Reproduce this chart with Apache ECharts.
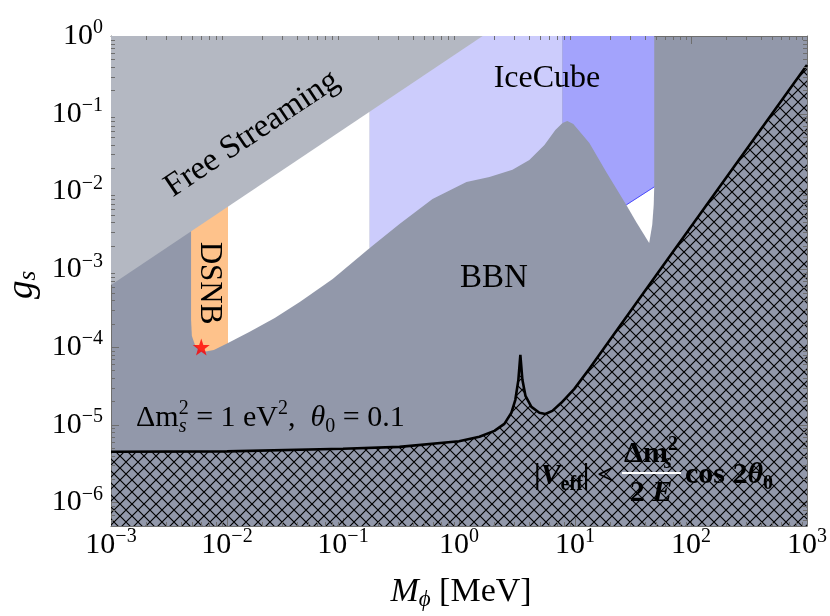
<!DOCTYPE html>
<html><head><meta charset="utf-8">
<script src="https://cdn.jsdelivr.net/npm/echarts@6/dist/echarts.min.js"></script>
<style>html,body{margin:0;padding:0;background:#fff}#c{width:830px;height:616px}</style>
</head><body><div id="c"></div>
<script>
// ---------------- data (M_phi in MeV, g_s) ----------------
const xRange = [1e-3, 1e3];
const yRange = [5e-7, 1];

// Free-streaming boundary (straight line in log-log)
const fsM = [0.001, 1.6];
const fsG = [6.3e-4, 1];

// BBN boundary: lower edge of the open window
const bbnM = [0.0049, 0.00498, 0.00529, 0.00584, 0.00657, 0.0077, 0.0102, 0.0157, 0.0258, 0.0424, 0.0815, 0.17, 0.307, 0.591, 1.16, 1.83, 2.89, 4.04, 5.45, 6.77, 7.8, 8.59, 9.67, 13.3, 18.6, 27.7];
const bbnG = [2.24e-4, 1.39e-4, 1.07e-4, 9.2e-5, 8.8e-5, 9.2e-5, 1.13e-4, 1.57e-4, 2.37e-4, 3.81e-4, 7.5e-4, 1.88e-3, 3.83e-3, 8.03e-3, 0.01328, 0.0154, 0.019, 0.0255, 0.0397, 0.0619, 0.0762, 0.0808, 0.0739, 0.0421, 0.01786, 6.73e-3];

// region limits in M
const dsnbRange = [0.0049, 0.0102];
const openRange = [0.0102, 0.17];
const iceLightRange = [0.17, 7.8];
const iceDarkRange = [7.8, 48.2];

// lower edge of dark IceCube band (right part)
const iceEdgeM = [27.7, 48.2];
const iceEdgeG = [6.73e-3, 0.01146];

// small open notch below IceCube band
const notchM = [27.7, 33.7, 43.6, 46.3, 47.7, 48.2];
const notchG = [6.73e-3, 4.07e-3, 2.18e-3, 3.72e-3, 6.73e-3, 0.01146];

// |V_eff| = Δm²/2E cos2θ0 curve
const veffM = [0.001, 0.01, 0.1, 0.307, 1, 1.5, 2.02, 2.46, 2.83, 3.06, 3.25, 3.38, 3.52, 3.74, 4.21, 4.93, 5.55, 6.38, 7.62, 9.87, 13.3, 19.7, 43.6, 1000];
const veffG = [4.5e-6, 4.56e-6, 4.92e-6, 5.21e-6, 6.14e-6, 7.01e-6, 8.37e-6, 1.03e-5, 1.43e-5, 2.10e-5, 3.79e-5, 7.94e-5, 3.79e-5, 2.36e-5, 1.70e-5, 1.43e-5, 1.38e-5, 1.51e-5, 1.92e-5, 2.90e-5, 5.25e-5, 1.20e-4, 6.3e-4, 0.424];

// benchmark point
const starM = [0.006];
const starG = [1e-4];

// ---------------- styles ----------------
const FONT = '"Liberation Serif","Times New Roman",serif';
const FRAME = '#6e6e6e';
const C_BBN = '#9298aa';
const C_FS = '#b4b8c2';
const C_ICE1 = '#ccccfc';
const C_ICE2 = '#a3a3fc';
const C_DSNB = '#fec28b';

const zip = (a, b) => a.map((v, i) => [v, b[i]]);
const bbn = zip(bbnM, bbnG);
const curveIn = (lo, hi) => bbn.filter(p => p[0] >= lo && p[0] <= hi);
const gTop = yRange[1];

const dsnbPoly = [[dsnbRange[0], gTop], ...curveIn(dsnbRange[0], dsnbRange[1]), [dsnbRange[1], gTop]];
const openPoly = [[openRange[0], gTop], ...curveIn(openRange[0], openRange[1]), [openRange[1], gTop]];
const ice1Poly = [[iceLightRange[0], gTop], ...curveIn(iceLightRange[0], iceLightRange[1]), [iceLightRange[1], gTop]];
const ice2Poly = [[iceDarkRange[0], gTop], ...curveIn(iceDarkRange[0], iceEdgeM[0]), ...zip(iceEdgeM, iceEdgeG).slice(1), [iceDarkRange[1], gTop]];
const notchPoly = zip(notchM, notchG);
const fsPoly = [...zip(fsM, fsG), [xRange[0], gTop]];
const veff = zip(veffM, veffG);
const hatchPoly = [...veff, [xRange[1], yRange[0]], [xRange[0], yRange[0]]];

// crosshatch pattern
const hatch = document.createElement('canvas');
hatch.width = 12; hatch.height = 12;
(function () {
  const c = hatch.getContext('2d');
  c.strokeStyle = '#000'; c.lineWidth = 1.2;
  c.beginPath();
  c.moveTo(-2, -2); c.lineTo(14, 14);
  c.moveTo(14, -2); c.lineTo(-2, 14);
  c.stroke();
})();

function polySeries(name, pts, style, z) {
  return {
    type: 'custom', name, z, silent: true, clip: true,
    xAxisIndex: 0, yAxisIndex: 0,
    data: [pts[0]],
    renderItem: (params, api) => ({
      type: 'polygon',
      shape: { points: pts.map(p => api.coord(p)) },
      style: style
    })
  };
}

// minor tick positions (2..9 x 10^n)
const minorX = [], minorY = [];
for (let d = -3; d < 3; d++) for (let k = 2; k <= 9; k++) minorX.push(k * Math.pow(10, d));
for (let d = -7; d < 0; d++) for (let k = 2; k <= 9; k++) { const v = k * Math.pow(10, d); if (v > yRange[0] && v < yRange[1]) minorY.push(v); }

function expLabel(v) {
  const e = Math.log10(v), r = Math.round(e);
  if (Math.abs(e - r) > 1e-6) return '';
  return '{b|10}{s|' + String(r).replace('-', '\u2212') + '}';
}
const labelRich = {
  b: { fontFamily: FONT, fontSize: 30, lineHeight: 36, verticalAlign: 'middle', color: '#000' },
  s: { fontFamily: FONT, fontSize: 20, lineHeight: 16, verticalAlign: 'top', color: '#000' }
};

function logAxis(range, pos, labels, margin) {
  return {
    type: 'log', logBase: 10, min: range[0], max: range[1], position: pos,
    axisLine: { show: true, onZero: false, lineStyle: { color: FRAME, width: 1 } },
    axisTick: { show: true, inside: true, length: 8, lineStyle: { color: FRAME, width: 1 } },
    axisLabel: labels ? { formatter: expLabel, rich: labelRich, margin: margin } : { show: false },
    splitLine: { show: false }, minorTick: { show: false }, minorSplitLine: { show: false }
  };
}

const baseRich = (size, color, weight) => ({
  r: { fontFamily: FONT, fontSize: size, lineHeight: 38, verticalAlign: 'middle', color, fontWeight: weight },
  i: { fontFamily: FONT, fontSize: size, lineHeight: 38, verticalAlign: 'middle', color, fontWeight: weight, fontStyle: 'italic' },
  sub: { fontFamily: FONT, fontSize: Math.round(size * 0.68), lineHeight: 18, verticalAlign: 'bottom', color, fontWeight: weight, fontStyle: 'italic' },
  subr: { fontFamily: FONT, fontSize: Math.round(size * 0.68), lineHeight: 18, verticalAlign: 'bottom', color, fontWeight: weight },
  subs: { fontFamily: FONT, fontSize: Math.round(size * 0.68), lineHeight: 18, verticalAlign: 'bottom', color, fontWeight: weight, fontStyle: 'italic', width: 0, align: 'left' },
  sup: { fontFamily: FONT, fontSize: Math.round(size * 0.68), lineHeight: 18, verticalAlign: 'top', color, fontWeight: weight }
});

const chart = echarts.init(document.getElementById('c'));
chart.setOption({
  animation: false,
  grid: { left: 111, right: 22, top: 36, bottom: 90, show: true, backgroundColor: C_BBN, borderWidth: 0 },
  xAxis: [logAxis(xRange, 'bottom', true, 1), logAxis(xRange, 'top', false)],
  yAxis: [logAxis(yRange, 'left', true, 8), logAxis(yRange, 'right', false)],
  series: [
    polySeries('DSNB', dsnbPoly, { fill: C_DSNB }, 1),
    polySeries('open', openPoly, { fill: '#ffffff' }, 1),
    polySeries('IceCube light', ice1Poly, { fill: C_ICE1 }, 1),
    polySeries('IceCube dark', ice2Poly, { fill: C_ICE2 }, 1),
    polySeries('notch', notchPoly, { fill: '#ffffff' }, 1),
    {
      type: 'line', name: 'IceCube edge', z: 2, data: zip(iceEdgeM, iceEdgeG), showSymbol: false, silent: true,
      lineStyle: { color: '#4a4aff', width: 1 }
    },
    polySeries('Free Streaming', fsPoly, { fill: C_FS }, 3),
    polySeries('hatch', hatchPoly, { fill: { image: hatch, repeat: 'repeat' } }, 4),
    {
      type: 'line', name: 'Veff', z: 5, data: veff, showSymbol: false, silent: true, clip: true,
      lineStyle: { color: '#000', width: 2.6 }
    },
    {
      type: 'scatter', name: 'star', z: 6, data: zip(starM, starG), silent: true,
      symbol: 'path://M0,-10L2.35,-3.24L9.51,-3.09L3.8,1.24L5.88,8.09L0,4L-5.88,8.09L-3.8,1.24L-9.51,-3.09L-2.35,-3.24Z',
      symbolSize: 17, itemStyle: { color: '#ff0000' }
    },
    {
      type: 'custom', name: 'minor ticks', z: 7, silent: true, clip: false, xAxisIndex: 0, yAxisIndex: 0,
      data: [[1, 1e-3]],
      renderItem: (params, api) => {
        const cs = params.coordSys, ch = [];
        const L = (x1, y1, x2, y2) => ({ type: 'line', shape: { x1, y1, x2, y2 }, style: { stroke: FRAME, lineWidth: 1 } });
        minorX.forEach(v => {
          const x = Math.round(api.coord([v, yRange[0]])[0]) + 0.5;
          ch.push(L(x, cs.y + cs.height, x, cs.y + cs.height - 4));
          ch.push(L(x, cs.y, x, cs.y + 4));
        });
        minorY.forEach(v => {
          const y = Math.round(api.coord([xRange[0], v])[1]) + 0.5;
          ch.push(L(cs.x, y, cs.x + 4, y));
          ch.push(L(cs.x + cs.width, y, cs.x + cs.width - 4, y));
        });
        return { type: 'group', children: ch };
      }
    }
  ],
  graphic: [
    { type: 'text', x: 252, y: 134, rotation: 0.59, z: 100,
      style: { text: 'Free Streaming', fontFamily: FONT, fontSize: 33, fill: '#000', align: 'center', verticalAlign: 'middle' } },
    { type: 'text', x: 209, y: 283, rotation: -Math.PI / 2, z: 100,
      style: { text: 'DSNB', fontFamily: FONT, fontSize: 31, fill: '#000', align: 'center', verticalAlign: 'middle' } },
    { type: 'text', x: 494, y: 278, z: 100,
      style: { text: 'BBN', fontFamily: FONT, fontSize: 33, fill: '#000', align: 'center', verticalAlign: 'middle' } },
    { type: 'text', x: 547, y: 79, z: 100,
      style: { text: 'IceCube', fontFamily: FONT, fontSize: 32, fill: '#000', align: 'center', verticalAlign: 'middle' } },
    { type: 'text', x: 136, y: 418, z: 100,
      style: { text: '{r|\u0394m}{subs|s}{sup|2}{r| = 1 eV}{sup|2}{r|,  }{i|\u03b8}{subr|0}{r| = 0.1}', rich: baseRich(30, '#000', 'normal'),
        align: 'left', verticalAlign: 'middle' } },
    // white fraction annotation
    { type: 'text', x: 614, y: 476, z: 100,
      style: { text: '{r||}{i|V}{subr|eff}{r|| <}', rich: baseRich(30, '#fff', 'bold'), align: 'right', verticalAlign: 'middle' } },
    { type: 'text', x: 651, y: 454, z: 100,
      style: { text: '{r|\u0394m}{subs|s}{sup|2}', rich: baseRich(30, '#fff', 'bold'), align: 'center', verticalAlign: 'middle' } },
    { type: 'line', z: 100, shape: { x1: 622, y1: 473, x2: 681, y2: 473 }, style: { stroke: '#fff', lineWidth: 2 } },
    { type: 'text', x: 651, y: 493, z: 100,
      style: { text: '{r|2 }{i|E}', rich: baseRich(30, '#fff', 'bold'), align: 'center', verticalAlign: 'middle' } },
    { type: 'text', x: 685, y: 475, z: 100,
      style: { text: '{r|cos 2}{i|\u03b8}{subr|0}', rich: baseRich(30, '#fff', 'bold'), align: 'left', verticalAlign: 'middle' } },
    // axis titles
    { type: 'text', x: 22, y: 285, rotation: Math.PI / 2, z: 100,
      style: { text: '{i|g}{sub|s}', rich: baseRich(37, '#000', 'normal'), align: 'center', verticalAlign: 'middle' } },
    { type: 'text', x: 461, y: 592, z: 100,
      style: { text: '{i|M}{sub|\u03d5}{r| [MeV]}', rich: baseRich(34, '#000', 'normal'), align: 'center', verticalAlign: 'middle' } }
  ]
});
</script>
</body></html>
